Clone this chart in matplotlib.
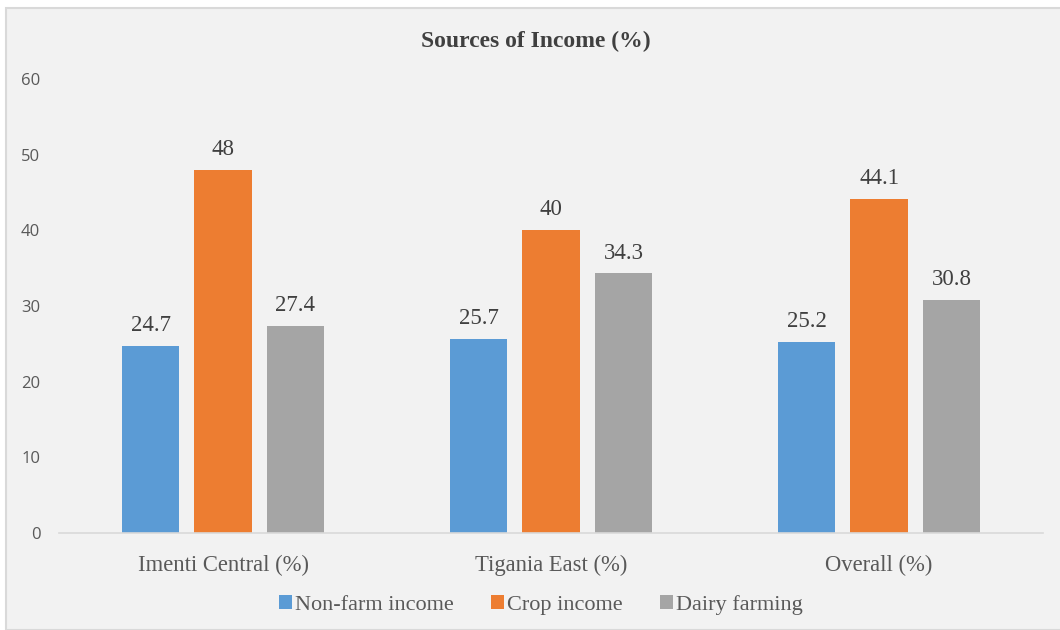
import matplotlib.pyplot as plt
import numpy as np
from matplotlib.patches import Rectangle

regions = ['Imenti Central (%)', 'Tigania East (%)', 'Overall (%)']
series_names = ['Non-farm income', 'Crop income', 'Dairy farming']
non_farm = [24.7, 25.7, 25.2]
crop = [48, 40, 44.1]
dairy = [27.4, 34.3, 30.8]
colors = ['#5B9BD5', '#ED7D31', '#A5A5A5']

fig = plt.figure(figsize=(10.6, 6.3), dpi=100)
fig.patch.set_facecolor('white')

# chart area panel with thin border, kept behind the axes
panel = Rectangle((6 / 1060, 0), 1.2, 1 - 8 / 630, transform=fig.transFigure,
                  facecolor='#F2F2F2', edgecolor='#D9D9D9', linewidth=1.5, zorder=-5)
fig.patches.append(panel)

ax = fig.add_axes([59 / 1060, 97 / 630, 984 / 1060, 454 / 630])
ax.set_facecolor('none')
ax.set_zorder(2)

x = np.arange(len(regions))
width = 0.175
step = 0.221
for i, (vals, name) in enumerate(zip([non_farm, crop, dairy], series_names)):
    pos = x + (i - 1) * step
    bars = ax.bar(pos, vals, width, color=colors[i], label=name, zorder=2)
    for b, v in zip(bars, vals):
        ax.text(b.get_x() + b.get_width() / 2, v + 1.3, f'{v:g}',
                ha='center', va='bottom', fontsize=16.5,
                family='Liberation Serif', color='#404040')

ax.set_xlim(-0.5, 2.5)
ax.set_ylim(0, 60)
ax.set_yticks(range(0, 61, 10))
ax.set_xticks(x)
ax.set_xticklabels(regions, family='Liberation Serif', fontsize=16.3, color='#595959')
for lab in ax.get_yticklabels():
    lab.set_family('Open Sans')
    lab.set_fontsize(12)
    lab.set_color('#595959')
ax.tick_params(axis='both', length=0)
ax.tick_params(axis='y', pad=13.5)
ax.tick_params(axis='x', pad=15.5)
for s in ['top', 'right', 'left']:
    ax.spines[s].set_visible(False)
ax.spines['bottom'].set_color('#D9D9D9')
ax.spines['bottom'].set_linewidth(1.2)

fig.text(536 / 1060, 1 - 41 / 630, 'Sources of Income (%)', ha='center', va='center',
         fontsize=17, fontweight='bold', family='Liberation Serif', color='#404040')

leg = fig.legend(loc='center', bbox_to_anchor=(541 / 1060, 1 - 605 / 630), ncol=3,
                 frameon=False, handlelength=0.55, handleheight=0.55, handletextpad=0.15,
                 columnspacing=1.7, prop={'family': 'Liberation Serif', 'size': 16})
for t in leg.get_texts():
    t.set_color('#595959')

fig.savefig('out.png', dpi=100)
